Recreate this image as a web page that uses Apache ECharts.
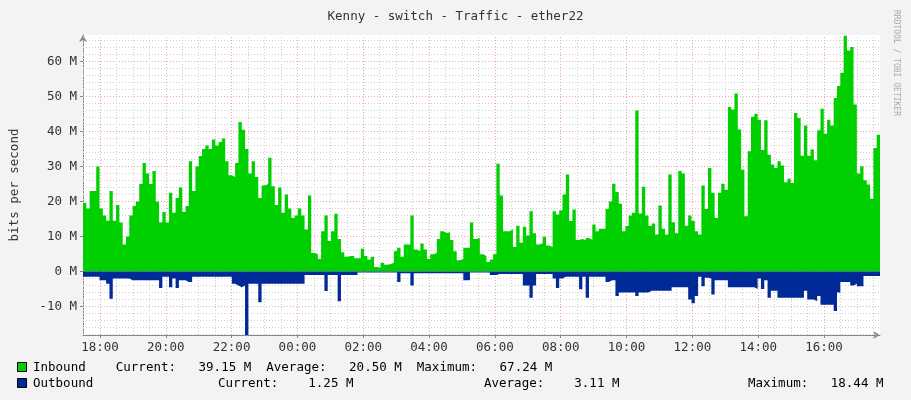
<!DOCTYPE html>
<html><head><meta charset="utf-8">
<script src="https://cdn.jsdelivr.net/npm/echarts@6/dist/echarts.min.js"></script>
<style>html,body{margin:0;padding:0;background:#f3f3f3}#c{width:911px;height:400px}</style>
</head><body><div id="c"></div>
<script>
const inbound1=[19.6,18,23,23,30,18,16,14.5,23,14.5,19,14,7.7,10,16,18.7,20,25,31,28,25,28.7,20,14,17,14,22.5,16.8,21,24,17,18.7,31.5,23,30,33,35,36,35,37.7,36,37,38,31.5,27.5,27,31,42.7,40.5,35,28,31.5,27,21,24.6,25,32.5,24.4,19,24,16.8,22,18,15.3,16,18,16,12,21.7,5.3,5,3.6,11.5,16,8.7,11.5,16.5,9.3,5.5,4.2,4.4,4.4,3.8];
const inbound2=[3.8,6.5,4.4,3.4,4.2,1.3,1.1,2.5,1.9,2.1,2.5,5.8,6.8,4.2,7.7,7.7,16,6.3,5.8,8,6.3,3.6,4.9,5.3,9.3,11.5,11,11.2,9,5.8,3.2,3.6,6.8,6.8,14,9.3,9.6,4.9,4.4,2.7,3.4,4.9,30.8,21.7,11.5,11.5,12,7,13.1,8.2,12.8,10.3,17.2,10.9,7.7,8,9.9,7.4,7,17.2,16.3,17.5,22,27.7,14.4,17.7,9,9.3,9,9.6,9.1,13.4,11.5,12.2,12.2,17.9,20,25.1,22.7,19.4,11.5,13];
const inbound3=[16,16.8,46,16.6,24.2,16,13,13.7,10.6,18.9,12.2,10.6,27.7,14.1,10.9,28.7,28,13.1,16,14.4,11.5,10.6,24.6,17.9,29.6,22.5,15.3,22.5,25.1,23.4,47,46.3,50.9,40.6,29.1,15.8,34.4,44.2,45.1,43.4,34.7,43.2,33.4,30.6,29.6,31.5,30.3,25.5,26.5,25.3,45.3,43.9,33.1,41.7,33.1,34.9,31.8,40.4,46.5,39.4,43.4,41.7,49.6,53,56.8,67.4,63.2,64.2,47.7,28,30.1,26.1,24.9,20.8,35.3,39.1];
const outbound1=[-1.5,-1.5,-1.5,-1.5,-1.5,-2.5,-2.5,-3.5,-7.8,-2,-2,-2,-2,-2,-2.5,-2.5,-2.5,-2.5,-2.5,-2.5,-2.5,-2.5,-2.5,-4.7,-1.5,-1.5,-4.5,-2,-4.7,-2.5,-2.5,-3,-3,-1.5,-1.5,
-1.5,-1.5,-1.5,-1.5,-1.5,-1.5,-1.5,-1.5,-1.5,-1.5,-3.5,-4,-4.5,-4,-18.4,-3.5,-3.5,-3.5,-8.8,
-3.5,-3.5,-3.5,-3.5,-3.5,-3.5,-3.5,-3.5,-3.5,-3.5,-3.5,-3.5,-3.5,
-1,-1,-1,-1,-1,-1,-5.6,-1,-1,-1,-8.5,-1,-1,-1,-1,-1];
const outbound2=[-0.3,-0.3,-0.3,-0.3,-0.3,-0.3,-0.3,-0.3,-0.3,-0.3,-0.3,-0.3,-3,-0.5,-0.5,-0.5,
-4,-0.5,-0.5,-0.5,-0.5,-0.5,-0.5,-0.5,-0.5,-0.5,-0.5,-0.5,-0.5,-0.5,-0.5,-0.5,-2.5,-2.5,-0.3,-0.3,-0.3,-0.3,-0.3,-0.3,-1,-1,
-0.7,-0.7,-0.7,-0.7,-0.7,-0.7,-0.7,-0.7,-4,-4,-7.5,-4,-0.7,-0.7,-0.7,-0.7,-0.7,-2,-4.7,-2,-1.5,-1.5,-1.5,-1.5,-1.5,-5.1,-1.5,-7.5,-1.5,-1.5,-1.5,-1.5,-1.5,-3,-2.5,-2.5,-7,-6,-6,-6];
const outbound3=[-6,-6,-7,-6,-6,-6,-5.5,-5.5,-5.5,-5.5,-5.5,-5.5,-5.5,-4.5,-4.5,-4.5,-4.5,-4.5,
-8,-9.1,-7,-1.5,-4.2,-1.8,-2,-6.6,-2.5,-2.5,-2.5,-2.5,-4.5,-4.5,-4.5,-4.5,-4.5,-4.5,-4.5,-4.5,
-5,-2,-5,-2.5,-7.5,-5.5,-5.5,-7.5,-7.5,-7.5,-7.5,-7.5,-7.5,-7.5,-7.5,-5.5,-8,-8,-8.5,-7,-9.5,-9.5,-9.5,-9.5,
-11.3,-6,-3,-3,-3,-4,-3.5,-4.2,-4.2,-1.3,-1.3,-1.3,-1.3,-1.3];
const yTicks=[-10,0,10,20,30,40,50,60];
const yMinor=[-18,-16,-14,-12,-10,-8,-6,-4,-2,0,2,4,6,8,10,12,14,16,18,20,22,24,26,28,30,32,34,36,38,40,42,44,46,48,50,52,54,56,58,60,62,64,66];
const xTicks=[18,20,22,24,26,28,30,32,34,36,38,40];
const xMinor=[];for(let h=17.5;h<=41.5;h+=0.5)xMinor.push(h);
const tStart=17.485,tEnd=41.70;

const inbound=inbound1.concat(inbound2,inbound3);
const outbound=outbound1.concat(outbound2,outbound3);
const n=inbound.length,step=(tEnd-tStart)/n;
const toPts=a=>{const r=[];a.forEach((v,i)=>{r.push([tStart+i*step,v]);r.push([tStart+(i+1)*step,v]);});return r;};

const mono='DejaVu Sans Mono';
const ml=[];
yMinor.forEach(v=>ml.push({yAxis:v,lineStyle:{color:v%10===0?'#f0a0a0':'#cfcfcf',type:[1,2],width:1}}));
xMinor.forEach(v=>ml.push({xAxis:v,lineStyle:{color:(v%2===0)?'#f0a0a0':'#cfcfcf',type:[1,2],width:1}}));
const fmtH=v=>String(((v%24)+24)%24).padStart(2,'0')+':00';

const chart=echarts.init(document.getElementById('c'));
chart.setOption({
 backgroundColor:'#f3f3f3',animation:false,
 title:{text:'Kenny - switch - Traffic - ether22',left:'center',top:5,textStyle:{fontFamily:mono,fontSize:12.5,fontWeight:'normal',color:'#333'}},
 grid:{left:81,right:31,top:35,bottom:65,show:true,backgroundColor:'#fff',borderWidth:0},
 xAxis:{type:'value',min:tStart,max:tEnd,
  axisLine:{onZero:false,lineStyle:{color:'#888'},symbol:['none','arrow'],symbolSize:[6,7]},
  axisTick:{show:true,customValues:xTicks,length:3,lineStyle:{color:'#888'}},
  axisLabel:{customValues:xTicks,formatter:fmtH,fontFamily:mono,fontSize:12.5,color:'#333',margin:6},
  splitLine:{show:false}},
 yAxis:{type:'value',min:-18.15,max:67.6,
  axisLine:{show:true,lineStyle:{color:'#888'},symbol:['none','arrow'],symbolSize:[6,7]},
  axisTick:{show:true,customValues:yTicks,length:3,lineStyle:{color:'#888'}},
  axisLabel:{customValues:yTicks,formatter:v=>v+' M',fontFamily:mono,fontSize:12.5,color:'#333',margin:6},
  name:'bits per second',nameLocation:'middle',nameGap:62,nameRotate:90,
  nameTextStyle:{fontFamily:mono,fontSize:12.5,color:'#333'},
  splitLine:{show:false}},
 series:[
  {type:'line',data:[],markLine:{silent:true,symbol:'none',label:{show:false},data:ml}},
  {type:'line',zlevel:1,data:toPts(inbound),symbol:'none',lineStyle:{width:0},areaStyle:{color:'#00cf00',opacity:1}},
  {type:'line',zlevel:1,data:toPts(outbound),symbol:'none',lineStyle:{width:0},areaStyle:{color:'#002a97',opacity:1}}
 ],
 graphic:[
  {type:'rect',left:17,top:362,shape:{width:9,height:9},style:{fill:'#00cf00',stroke:'#000',lineWidth:1}},
  {type:'rect',left:17,top:378,shape:{width:9,height:9},style:{fill:'#002a97',stroke:'#000',lineWidth:1}},
  {type:'text',left:33,top:361,style:{text:'Inbound    Current:   39.15 M  Average:   20.50 M  Maximum:   67.24 M',font:'12.5px "DejaVu Sans Mono"',fill:'#000'}},
  {type:'text',left:33,top:377,style:{text:'Outbound',font:'12.5px "DejaVu Sans Mono"',fill:'#000'}},
  {type:'text',left:218,top:377,style:{text:'Current:    1.25 M',font:'12.5px "DejaVu Sans Mono"',fill:'#000'}},
  {type:'text',left:484,top:377,style:{text:'Average:    3.11 M',font:'12.5px "DejaVu Sans Mono"',fill:'#000'}},
  {type:'text',left:748,top:377,style:{text:'Maximum:   18.44 M',font:'12.5px "DejaVu Sans Mono"',fill:'#000'}},
  {type:'text',x:900,y:10,rotation:-Math.PI/2,style:{text:'RRDTOOL / TOBI OETIKER',font:'8px "DejaVu Sans Mono"',fill:'#aaa'}}
 ]
});
</script></body></html>
